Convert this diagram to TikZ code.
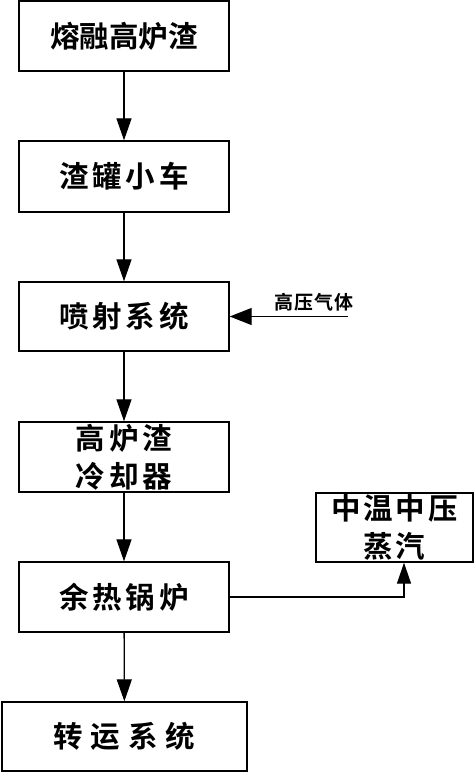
\documentclass[tikz,border=0pt]{standalone}
\usepackage{fontspec}
\setmainfont{Noto Sans CJK SC}[BoldFont={Noto Sans CJK SC Bold}]
\usetikzlibrary{arrows.meta}
\newcommand\ls[1]{\kern#1pt}
\begin{document}
\begin{tikzpicture}[x=1pt,y=-1pt,
  box/.style={draw,line width=1.4pt,minimum width=210pt,minimum height=70pt,inner sep=0pt,
    font=\fontsize{29.5}{38}\selectfont\bfseries,align=center},
  flow/.style={line width=1.3pt,-{Triangle[length=22pt,width=15pt]}}]
\useasboundingbox (0,0) rectangle (474,773);
\node[box] (b1) at (124,36) {熔融高炉渣};
\node[box,minimum height=71pt] (b2) at (124,176.5) {渣\ls4罐\ls4小\ls4车};
\node[box,minimum height=69pt] (b3) at (124,316.5) {喷\ls4射\ls4系\ls4统};
\node[box] (b4) at (124,457) {高\ls4炉\ls4渣\\冷\ls4却\ls4器};
\node[box] (b5) at (124,597) {余\ls4热\ls4锅\ls4炉};
\node[box,minimum width=245pt,minimum height=69pt] (b6) at (124.5,736.5) {转\ls8运\ls8系\ls8统};
\node[box,minimum width=157pt,minimum height=69pt] (b7) at (394.5,527.5) {中\ls3温\ls3中\ls3压\\蒸\ls3汽};
\node[font=\fontsize{19}{20}\selectfont\bfseries,inner sep=0pt] (gl) at (314,302) {高\ls1压\ls1气\ls1体};
\coordinate (gas) at (348,316.5);
\draw[flow] (b1) -- (b2);
\draw[flow] (b2) -- (b3);
\draw[flow] (b3) -- (b4);
\draw[flow] (b4) -- (b5);
\draw[flow] (b5) -- (b6);
\draw[line width=1.3pt,-{Triangle[length=22pt,width=17pt]}] (gas) -- (b3.east);
\draw[line width=1.3pt,-{Triangle[length=21pt,width=14pt]}] (b5.east) -| ([xshift=9.5pt]b7.south);
\end{tikzpicture}
\end{document}
